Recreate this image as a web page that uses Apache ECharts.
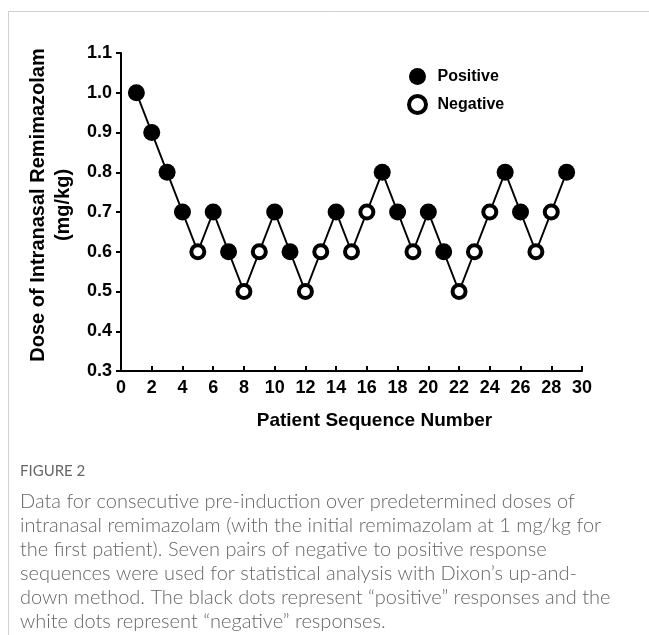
<!DOCTYPE html>
<html>
<head>
<meta charset="utf-8">
<script src="https://cdn.jsdelivr.net/npm/echarts@6/dist/echarts.min.js"></script>
<style>
html,body{margin:0;padding:0;background:#fff;}
#chart{width:649px;height:635px;}
</style>
</head>
<body>
<div id="chart"></div>
<script>
// Data
var patients = [1,2,3,4,5,6,7,8,9,10,11,12,13,14,15,16,17,18,19,20,21,22,23,24,25,26,27,28,29];
var doses = [1.0,0.9,0.8,0.7,0.6,0.7,0.6,0.5,0.6,0.7,0.6,0.5,0.6,0.7,0.6,0.7,0.8,0.7,0.6,0.7,0.6,0.5,0.6,0.7,0.8,0.7,0.6,0.7,0.8];
var responses = ['P','P','P','P','N','P','P','N','N','P','P','N','N','P','N','N','P','P','N','P','P','N','N','N','P','P','N','N','P'];
var seriesNames = ['Positive','Negative'];
var xTicks = {min:0, max:30, interval:2};
var yTicks = {min:0.3, max:1.1, interval:0.1};
var xAxisTitle = 'Patient Sequence Number';
var yAxisTitle = 'Dose of Intranasal Remimazolam\n(mg/kg)';
var figureLabel = 'FIGURE 2';
var captionLines = [
  'Data for consecutive pre-induction over predetermined doses of',
  'intranasal remimazolam (with the initial remimazolam at 1 mg/kg for',
  'the first patient). Seven pairs of negative to positive response',
  'sequences were used for statistical analysis with Dixon\u2019s up-and-',
  'down method. The black dots represent \u201cpositive\u201d responses and the',
  'white dots represent \u201cnegative\u201d responses.'
];

var allPts = patients.map(function(p,i){return [p, doses[i]];});
var posPts = [], negPts = [];
patients.forEach(function(p,i){
  if (responses[i] === 'P') posPts.push([p, doses[i]]); else negPts.push([p, doses[i]]);
});

var FONT = 'Arial, "Liberation Sans", sans-serif';
var chart = echarts.init(document.getElementById('chart'), null, {renderer:'canvas'});
var option = {
  animation: false,
  backgroundColor: '#fff',
  grid: {left:121, right:67, top:53, bottom:264, containLabel:false},
  legend: {
    orient: 'vertical',
    left: 402, top: 63,
    itemWidth: 30, itemHeight: 17, itemGap: 9,
    data: [
      {name: seriesNames[0], icon:'circle', itemStyle:{color:'#000'}},
      {name: seriesNames[1], icon:'circle', itemStyle:{color:'#fff', borderColor:'#000', borderWidth:4}}
    ],
    textStyle: {fontFamily: FONT, fontWeight:'bold', fontSize:16, color:'#000'}
  },
  xAxis: {
    type: 'value', min: xTicks.min, max: xTicks.max, interval: xTicks.interval,
    name: xAxisTitle, nameLocation: 'middle', nameGap: 40,
    nameTextStyle: {fontFamily: FONT, fontWeight:'bold', fontSize:19, color:'#000', padding:[0,0,0,46]},
    axisLine: {lineStyle:{color:'#000', width:2}},
    axisTick: {inside:true, length:5, lineStyle:{color:'#000', width:2}},
    axisLabel: {fontFamily: FONT, fontWeight:'bold', fontSize:18, color:'#000', margin:8},
    splitLine: {show:false}
  },
  yAxis: {
    type: 'value', min: yTicks.min, max: yTicks.max, interval: yTicks.interval,
    name: yAxisTitle, nameLocation: 'middle', nameGap: 36, nameRotate: 90,
    nameTextStyle: {fontFamily: FONT, fontWeight:'bold', fontSize:20, color:'#000', lineHeight:25, padding:[0,0,0,14]},
    axisLine: {show:true, lineStyle:{color:'#000', width:2}},
    axisTick: {show:true, inside:false, length:5, lineStyle:{color:'#000', width:2}},
    axisLabel: {fontFamily: FONT, fontWeight:'bold', fontSize:18, color:'#000', margin:9,
      formatter: function(v){return v.toFixed(1);}},
    splitLine: {show:false}
  },
  series: [
    {type:'line', data: allPts, symbol:'none', lineStyle:{color:'#000', width:2}, z:1, silent:true},
    {name: seriesNames[0], type:'scatter', data: posPts, symbol:'circle', symbolSize:17,
      itemStyle:{color:'#000', opacity:1}, z:3},
    {name: seriesNames[1], type:'scatter', data: negPts, symbol:'circle', symbolSize:13,
      itemStyle:{color:'#fff', borderColor:'#000', borderWidth:4, opacity:1}, z:3}
  ],
  graphic: [
    {type:'line', shape:{x1:8, y1:11.5, x2:649, y2:11.5}, style:{stroke:'#d0d0d0', lineWidth:1}},
    {type:'line', shape:{x1:8.5, y1:11, x2:8.5, y2:635}, style:{stroke:'#d0d0d0', lineWidth:1}},
    {type:'text', left:20, top:464, style:{text: figureLabel, fontFamily:'Lato, sans-serif', fontSize:15, fill:'#666'}},
    {type:'text', left:20, top:490, style:{text: captionLines.join('\n'), fontFamily:'Lato, sans-serif', fontSize:20, fontWeight:300, lineHeight:24, fill:'#666'}}
  ]
};
chart.setOption(option);
</script>
</body>
</html>
